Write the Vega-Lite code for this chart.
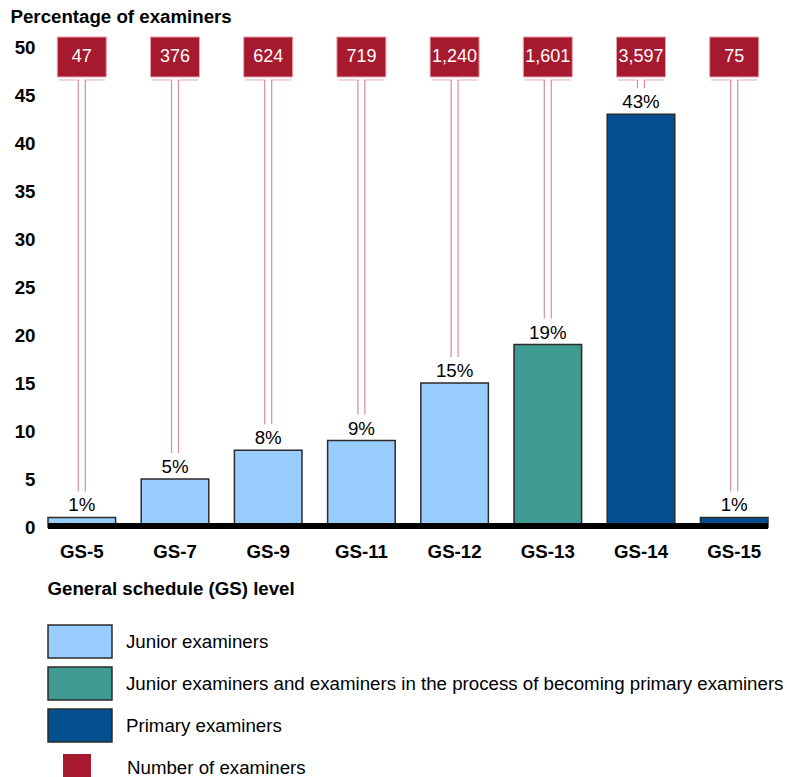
{
  "$schema": "https://vega.github.io/schema/vega-lite/v6.json",
  "width": 720,
  "height": 480,
  "autosize": "none",
  "padding": {"left": 48, "top": 47, "right": 19, "bottom": 250},
  "background": "white",
  "config": {"font": "Liberation Sans", "view": {"stroke": null}},
  "data": {
    "values": [
      {"grade": "GS-5", "pct": 1, "label": "1%", "count": 47, "group": "Junior examiners"},
      {"grade": "GS-7", "pct": 5, "label": "5%", "count": 376, "group": "Junior examiners"},
      {"grade": "GS-9", "pct": 8, "label": "8%", "count": 624, "group": "Junior examiners"},
      {"grade": "GS-11", "pct": 9, "label": "9%", "count": 719, "group": "Junior examiners"},
      {"grade": "GS-12", "pct": 15, "label": "15%", "count": 1240, "group": "Junior examiners"},
      {"grade": "GS-13", "pct": 19, "label": "19%", "count": 1601, "group": "Junior examiners and examiners in the process of becoming primary examiners"},
      {"grade": "GS-14", "pct": 43, "label": "43%", "count": 3597, "group": "Primary examiners"},
      {"grade": "GS-15", "pct": 1, "label": "1%", "count": 75, "group": "Primary examiners"}
    ]
  },
  "layer": [
    {
      "mark": {"type": "bar", "stroke": "#2b2b2b", "strokeWidth": 1.5},
      "encoding": {
        "x": {
          "field": "grade", "type": "nominal", "sort": null,
          "scale": {"paddingInner": 0.275, "paddingOuter": 0},
          "axis": {
            "title": "General schedule (GS) level",
            "titleX": -1, "titleY": 61, "titleAlign": "left", "titleBaseline": "middle",
            "titleFontSize": 18.7, "titleFontWeight": "bold", "titleColor": "black",
            "labelFontSize": 18.7, "labelFontWeight": "bold", "labelColor": "black",
            "labelAngle": 0, "labelBaseline": "middle", "labelPadding": 24,
            "domain": false, "ticks": false, "grid": false
          }
        },
        "y": {
          "field": "pct", "type": "quantitative",
          "scale": {"domain": [0, 50], "nice": false},
          "axis": {
            "title": "Percentage of examiners",
            "titleAngle": 0, "titleX": -38, "titleY": -31, "titleAlign": "left", "titleBaseline": "middle",
            "titleFontSize": 18.7, "titleFontWeight": "bold", "titleColor": "black",
            "labelFontSize": 18.7, "labelFontWeight": "bold", "labelColor": "black", "labelPadding": 13,
            "values": [0, 5, 10, 15, 20, 25, 30, 35, 40, 45, 50],
            "domain": false, "ticks": false, "grid": false
          }
        },
        "fill": {
          "field": "group", "type": "nominal",
          "scale": {
            "domain": ["Junior examiners", "Junior examiners and examiners in the process of becoming primary examiners", "Primary examiners"],
            "range": ["#99CCFF", "#3F9A91", "#044F8F"]
          },
          "legend": {
            "title": null, "orient": "none", "legendX": 14.5, "legendY": 577, "padding": 0,
            "symbolType": "M-1.939,-1H1.939V1H-1.939Z", "symbolSize": 1089,
            "symbolStrokeColor": "#2b2b2b", "symbolStrokeWidth": 1.5, "symbolOpacity": 1,
            "labelFontSize": 18.7, "labelColor": "black", "labelOffset": 28.5, "labelLimit": 800,
            "rowPadding": 3
          }
        }
      }
    },
    {
      "mark": {"type": "rule", "color": "black", "strokeWidth": 5, "yOffset": -1},
      "encoding": {"y": {"datum": 0, "type": "quantitative"}}
    },
    {
      "mark": {"type": "tick", "size": 46, "thickness": 1.2, "color": "#D98C9C"},
      "encoding": {
        "x": {"field": "grade", "type": "nominal", "sort": null},
        "y": {"datum": 46.56, "type": "quantitative"}
      }
    },
    {
      "mark": {"type": "tick", "size": 6, "thickness": 2, "color": "white"},
      "encoding": {
        "x": {"field": "grade", "type": "nominal", "sort": null},
        "y": {"datum": 46.56, "type": "quantitative"}
      }
    },
    {
      "mark": {"type": "rule", "color": "#D98C9C", "strokeWidth": 1.2, "xOffset": -3.5, "yOffset": -26},
      "encoding": {
        "x": {"field": "grade", "type": "nominal", "sort": null},
        "y": {"field": "pct", "type": "quantitative"},
        "y2": {"datum": 46.56}
      }
    },
    {
      "mark": {"type": "rule", "color": "#D98C9C", "strokeWidth": 1.2, "xOffset": 3.5, "yOffset": -26},
      "encoding": {
        "x": {"field": "grade", "type": "nominal", "sort": null},
        "y": {"field": "pct", "type": "quantitative"},
        "y2": {"datum": 46.56}
      }
    },
    {
      "mark": {"type": "tick", "size": 49, "thickness": 40, "stroke": "#E9A3AE", "strokeWidth": 1, "opacity": 1},
      "encoding": {
        "x": {"field": "grade", "type": "nominal", "sort": null},
        "y": {"datum": 48.96, "type": "quantitative"},
        "color": {
          "datum": "Number of examiners", "type": "nominal",
          "scale": {"range": ["#A6192E"]},
          "legend": {
            "title": null, "orient": "none", "legendX": 15, "legendY": 707, "padding": 0,
            "symbolType": "square", "symbolSize": 784, "symbolStrokeWidth": 0, "symbolOpacity": 1,
            "symbolFillColor": "#A6192E",
            "labelFontSize": 18.7, "labelColor": "black", "labelOffset": 36, "labelLimit": 800
          }
        }
      }
    },
    {
      "mark": {"type": "text", "color": "white", "fontSize": 18, "baseline": "middle"},
      "encoding": {
        "x": {"field": "grade", "type": "nominal", "sort": null},
        "y": {"datum": 48.96, "type": "quantitative"},
        "text": {"field": "count", "type": "quantitative", "format": ","}
      }
    },
    {
      "mark": {"type": "text", "color": "black", "fontSize": 18.7, "baseline": "middle", "dy": -12},
      "encoding": {
        "x": {"field": "grade", "type": "nominal", "sort": null},
        "y": {"field": "pct", "type": "quantitative"},
        "text": {"field": "label", "type": "nominal"}
      }
    }
  ]
}
